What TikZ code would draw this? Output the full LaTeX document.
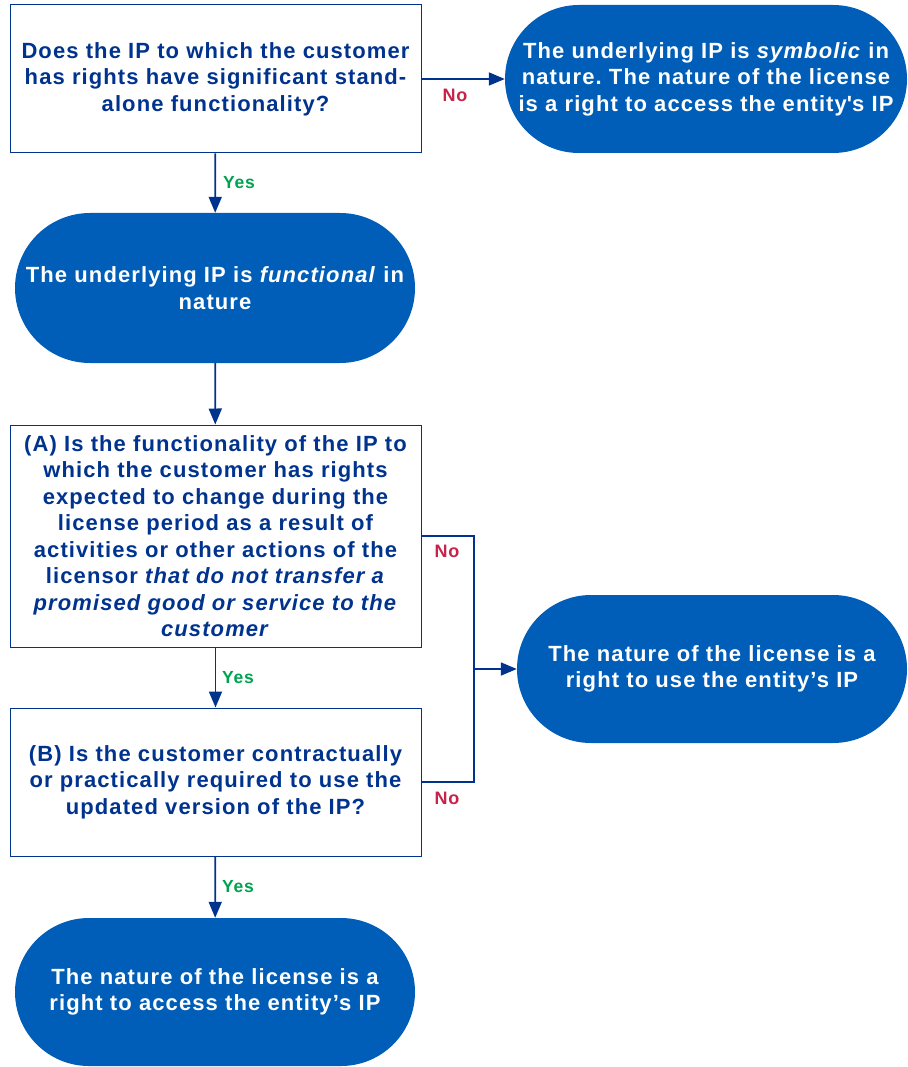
\documentclass[tikz,border=0pt]{standalone}
\usepackage{fontspec}
\setmainfont[LetterSpace=5]{Liberation Sans}
\usetikzlibrary{arrows.meta,shapes.misc}
\frenchspacing

\definecolor{kdark}{HTML}{00338D}
\definecolor{kblue}{HTML}{005EB8}
\definecolor{kno}{HTML}{C8224B}
\definecolor{kyes}{HTML}{00A24F}

\tikzset{
    question/.style={draw=kdark, line width=1pt, text=kdark, inner sep=0pt,
        minimum width=411pt, minimum height=148pt, align=center,
        font=\fontsize{22}{26.5}\selectfont\bfseries},
    outcome/.style={rounded rectangle, fill=kblue, text=white, inner sep=0pt,
        minimum height=148pt, align=center,
        font=\fontsize{22}{26.5}\selectfont\bfseries},
    link/.style={draw=kdark, line width=1.8pt},
    arrow/.style={link, -{Triangle[length=16pt,width=13pt]}},
    nolabel/.style={text=kno, font=\fontsize{18}{18}\selectfont\bfseries},
    yeslabel/.style={text=kyes, font=\fontsize{17.5}{18}\selectfont\bfseries}
}

\begin{document}
\begin{tikzpicture}[x=1pt, y=-1pt]
    \useasboundingbox (0, 0) rectangle (907, 1067);

    % questions
    \node[question] (standalone) at (215.5, 79)
        {Does the IP to which the customer\\has rights have significant stand-\\alone functionality?};
    \node[question, minimum height=222pt] (change) at (215.5, 536)
        {(A) Is the functionality of the IP to\\which the customer has rights\\expected to change during the\\license period as a result of\\activities or other actions of the\\licensor \textit{that do not transfer a}\\\textit{promised good or service to the}\\\textit{customer}};
    \node[question] (required) at (215.5, 782)
        {(B) Is the customer contractually\\or practically required to use the\\updated version of the IP?};

    % outcomes
    \node[outcome, minimum width=402pt] (symbolic) at (706, 79)
        {The underlying IP is \textit{symbolic} in\\nature. The nature of the license\\is a right to access the entity\textquotesingle s IP};
    \node[outcome, minimum width=400pt, minimum height=150pt] (functional) at (215, 288)
        {The underlying IP is \textit{functional} in\\nature};
    \node[outcome, minimum width=390pt] (use) at (712, 669)
        {The nature of the license is a\\right to use the entity’s IP};
    \node[outcome, minimum width=400pt] (access) at (215, 992)
        {The nature of the license is a\\right to access the entity’s IP};

    \coordinate (join) at (474, 669);

    % connectors
    \draw[arrow] (standalone) -- (symbolic);
    \draw[arrow] (standalone) -- (functional);
    \draw[arrow] (functional) -- (change);
    \draw[arrow] (change) -- (required);
    \draw[arrow] (required) -- (access);
    \draw[link] (change.east) -| (join) |- (required.east);
    \draw[arrow] (join) -- (use);

    % labels
    \node[nolabel] (no1) at (455, 95) {No};
    \node[yeslabel] (yes1) at (239, 183) {Yes};
    \node[nolabel] (no2) at (447, 551) {No};
    \node[yeslabel] (yes2) at (238, 678) {Yes};
    \node[nolabel] (no3) at (447, 798) {No};
    \node[yeslabel] (yes3) at (238, 887) {Yes};

\end{tikzpicture}
\end{document}
